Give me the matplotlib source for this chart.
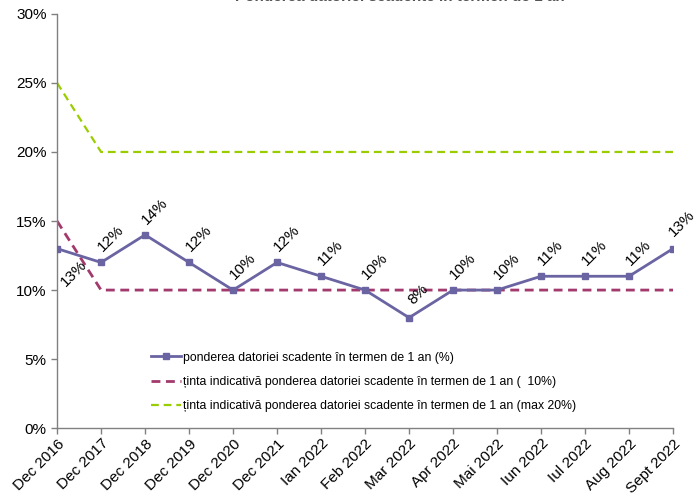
import matplotlib
matplotlib.use('Agg')
import matplotlib.pyplot as plt

plt.rcParams['font.family'] = ['Liberation Sans', 'DejaVu Sans']

# date
luni = ['Dec 2016', 'Dec 2017', 'Dec 2018', 'Dec 2019', 'Dec 2020', 'Dec 2021',
        'Ian 2022', 'Feb 2022', 'Mar 2022', 'Apr 2022', 'Mai 2022', 'Iun 2022',
        'Iul 2022', 'Aug 2022', 'Sept 2022']
pondere = [13, 12, 14, 12, 10, 12, 11, 10, 8, 10, 10, 11, 11, 11, 13]
tinta_10 = [15, 10, 10, 10, 10, 10, 10, 10, 10, 10, 10, 10, 10, 10, 10]
tinta_20 = [25, 20, 20, 20, 20, 20, 20, 20, 20, 20, 20, 20, 20, 20, 20]

C_MAIN = '#6A64A2'
C_T10 = '#A33A6E'
C_T20 = '#9ACD00'
C_AX = '#808080'

fig = plt.figure(figsize=(6.96, 4.95), dpi=100)
ax = fig.add_axes([0.082, 0.135, 0.885, 0.837])

x = list(range(len(luni)))
ax.plot(x, pondere, color=C_MAIN, lw=2, marker='s', ms=4.5,
        label='ponderea datoriei scadente în termen de 1 an (%)', zorder=3)
ax.plot(x, tinta_10, color=C_T10, lw=2, ls=(0, (3.2, 2)),
        label='ținta indicativă ponderea datoriei scadente în termen de 1 an (  10%)', zorder=2)
ax.plot(x, tinta_20, color=C_T20, lw=1.6, ls=(0, (3.5, 2.2)),
        label='ținta indicativă ponderea datoriei scadente în termen de 1 an (max 20%)', zorder=2)

# etichete de date, rotite la 45 de grade
for i, v in enumerate(pondere):
    if i == 0:
        off = (12, -18)
    elif i == len(pondere) - 1:
        off = (6, 18)
    else:
        off = (7, 17)
    ax.annotate(f'{v}%', (i, v), textcoords='offset points', xytext=off,
                ha='center', va='center', rotation=45, fontsize=11, color='black')

ax.set_xlim(0, len(luni) - 1)
ax.set_ylim(0, 30)
ax.set_yticks(range(0, 31, 5))
ax.set_yticklabels([f'{t}%' for t in range(0, 31, 5)], fontsize=11)
ax.set_xticks(x)
ax.set_xticklabels(luni, rotation=45, ha='right', rotation_mode='anchor', fontsize=11)

for s in ['top', 'right']:
    ax.spines[s].set_visible(False)
for s in ['left', 'bottom']:
    ax.spines[s].set_color(C_AX)
    ax.spines[s].set_linewidth(1)
ax.tick_params(axis='both', colors=C_AX, labelcolor='black', length=4, width=1)
ax.tick_params(axis='x', pad=2)

leg = ax.legend(loc='lower left', bbox_to_anchor=(0.135, 0.012), frameon=False,
                fontsize=8.8, handlelength=2.4, handletextpad=0.2,
                labelspacing=1.0, numpoints=1)

# titlul, taiat in partea de sus ca in original
fig.text(0.575, 0.9975, 'Ponderea datoriei scadente în termen de 1 an',
         ha='center', va='baseline', fontsize=11, fontweight='bold', color='#555555')

fig.savefig('out.png', dpi=100)
